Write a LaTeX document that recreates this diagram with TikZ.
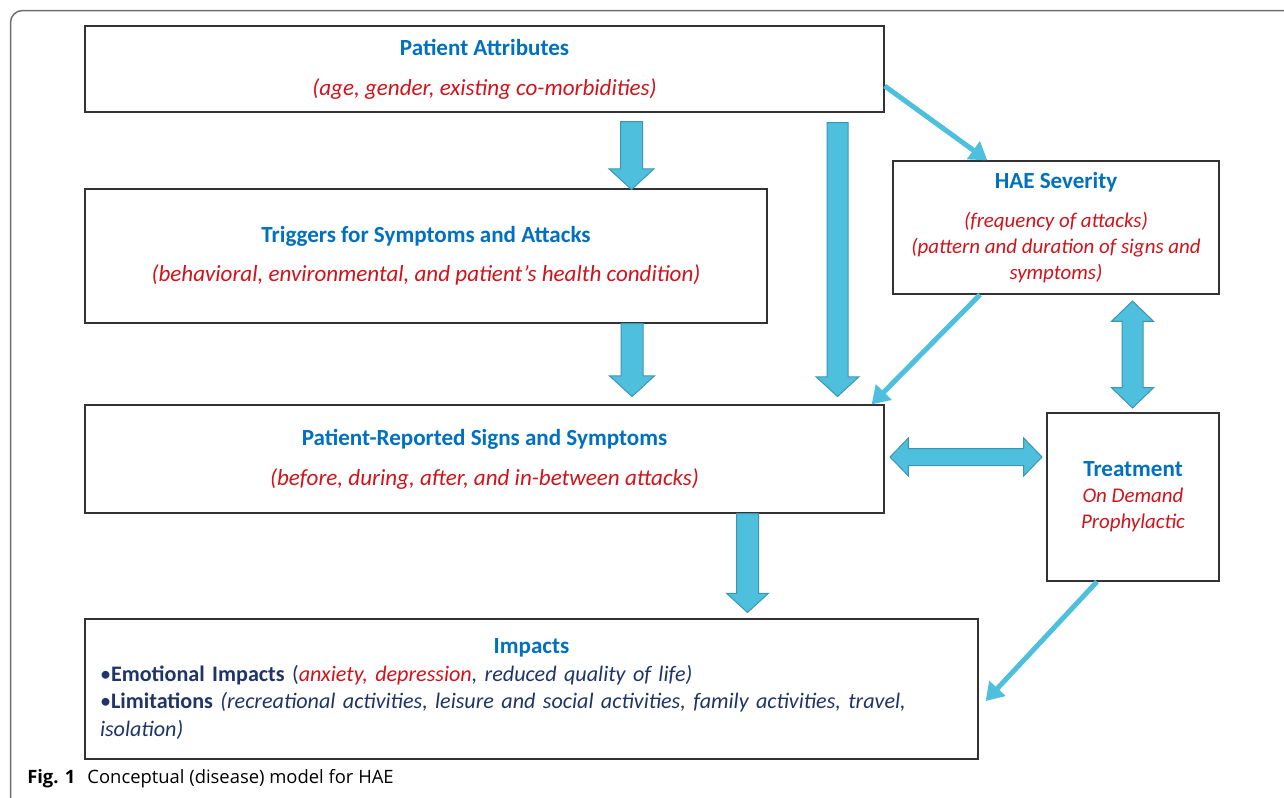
\documentclass[tikz,border=0pt]{standalone}
\usepackage{fontspec}
\setmainfont{Carlito}
\newfontfamily\capfont{Open Sans}
\usetikzlibrary{arrows.meta,positioning,calc,shapes.arrows}
\definecolor{hdBlue}{HTML}{0070C0}
\definecolor{txRed}{HTML}{D0141C}
\definecolor{txNavy}{HTML}{1F3468}
\definecolor{arFill}{HTML}{4EBFDC}
\definecolor{arLine}{HTML}{3A97B2}
\definecolor{frameGray}{HTML}{6E6E6E}
\newlength{\pxu}\setlength{\pxu}{0.75pt}
\newcommand{\hd}[1]{{\bfseries\color{hdBlue}#1}}
\newcommand{\subtx}[1]{{\itshape\color{txRed}#1}}
\newcommand{\subsm}[1]{{\fontsize{15.7}{19.5}\selectfont\itshape\color{txRed}#1}}

\begin{document}
\begin{tikzpicture}[x=0.75pt,y=-0.75pt,box/.style={draw=black!80,line width=1.3\pxu,fill=white,align=center,inner sep=0pt,font=\fontsize{17.3}{19.5}\selectfont},downarr/.style={single arrow,draw=arLine,fill=arFill,line width=1\pxu,inner sep=0pt,inner ysep=10.5\pxu,rotate=-90,anchor=tail,single arrow tip angle=95,single arrow head extend=11.5\pxu},bothway/.style={double arrow,draw=arLine,fill=arFill,line width=1\pxu,inner sep=0pt,double arrow tip angle=92,double arrow head extend=10.5\pxu},thinarr/.style={draw=arFill,line width=5\pxu,-{Triangle[length=13pt,width=16pt]}}]
    \useasboundingbox (0,0) rectangle (1284,797);
    \clip (0,0) rectangle (1284,797);
    \draw[frameGray,line width=1.5\pxu,rounded corners=12\pxu] (10.5,830) -- (10.5,10.5) -- (1310,10.5);
    % boxes
    \node[box,minimum width=799\pxu,minimum height=86\pxu] (pa) at (484.5,69) {\hd{Patient Attributes}\\[10.5pt]\subtx{(age, gender, existing co-morbidities)}};
    \node[box,minimum width=682\pxu,minimum height=134\pxu] (trig) at (426,256) {\hd{Triggers for Symptoms and Attacks}\\[10pt]\subtx{(behavioral, environmental, and patient’s health condition)}};
    \node[box,minimum width=326\pxu,minimum height=133\pxu] (sev) at (1056,227.5) {\hd{HAE Severity}\\[9.5pt]\subsm{(frequency of attacks)}\\\subsm{(pattern and duration of signs and}\\\subsm{symptoms)}};
    \node[box,minimum width=799\pxu,minimum height=108\pxu] (sign) at (484.5,459) {\hd{Patient-Reported Signs and Symptoms}\\[10.5pt]\subtx{(before, during, after, and in-between attacks)}};
    \node[box,minimum width=172\pxu,minimum height=168\pxu] (treat) at (1133,497) {\hd{Treatment}\\\subsm{On Demand}\\\subsm{Prophylactic}};
    \node[box,align=left,text width=863\pxu,minimum width=893\pxu,minimum height=140\pxu,inner xsep=15\pxu,font=\fontsize{16.6}{20.75}\selectfont] (imp) at (531.5,689) {\makebox[\linewidth]{\fontsize{17.3}{20.75}\selectfont\hd{Impacts}}\\{\color{txNavy}\textbullet\textbf{Emotional Impacts} (\subtx{anxiety, depression}\textit{, reduced quality of life)}}\\{\color{txNavy}\textbullet\textbf{Limitations} \textit{(recreational activities, leisure and social activities, family activities, travel,}}\\{\color{txNavy}\textit{isolation)}}};
    % block arrows
    \node[downarr,minimum height=68\pxu] (a1) at (631.5,121) {};
    \node[downarr,minimum height=73\pxu] (a2) at (632,323) {};
    \node[downarr,minimum height=274\pxu,inner ysep=10\pxu,single arrow head extend=11\pxu] (a3) at (837.5,122) {};
    \node[downarr,minimum height=99\pxu,inner ysep=10.5\pxu,single arrow head extend=10\pxu] (a4) at (747.5,513) {};
    \node[bothway,minimum height=152\pxu,inner ysep=8\pxu] (h1) at (966,457) {};
    \node[bothway,rotate=90,minimum height=107\pxu,inner ysep=10\pxu] (v1) at (1132.5,354.5) {};
    % thin arrows
    \draw[thinarr] ($(pa.east)+(0,17)$) -- ($(sev.north west)+(95,0)$);
    \draw[thinarr] ($(sev.south)+(-76,0)$) -- ($(sign.north east)+(-13,0)$);
    \draw[thinarr] ($(treat.south)+(-36,0)$) -- ($(imp.east)+(7,12)$);
    \node[anchor=west,inner sep=0pt,font=\capfont\fontsize{13.8}{15}\selectfont] (cap) at (27,779) {\textbf{Fig. 1}\hspace{9pt}Conceptual (disease) model for HAE};
\end{tikzpicture}
\end{document}
